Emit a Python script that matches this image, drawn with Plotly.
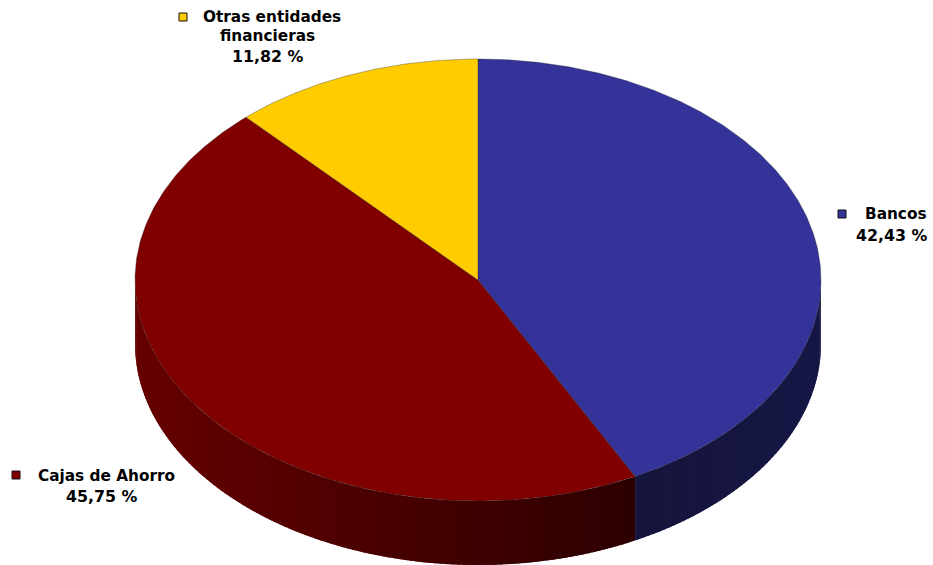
import math
import plotly.graph_objects as go

# Share of each group of institutions, clockwise from twelve o'clock
categories = ["Bancos", "Cajas de Ahorro", "Otras entidades<br>financieras"]
shares = [42.43, 45.75, 11.82]
colors = ["#333399", "#800000", "#FFCC00"]

# Pixel-based frame and ellipse geometry of the tilted disc
WIDTH, HEIGHT = 933, 565
CX, CY, RX, RY, DEPTH = 478, 280, 343, 221, 64

# Label placement per category: key x, key y, first-line x, other-lines x, anchor, line y positions
label_layout = [
    (842, 214, 929, 929, "right", [214, 235]),
    (16, 475, 106.5, 101, "center", [476, 496]),
    (183, 17, 272, 267.5, "center", [17, 36, 56]),
]


def rim(theta_deg):
    t = math.radians(theta_deg)
    return CX + RX * math.sin(t), CY - RY * math.cos(t)


def arc(a, b, step=0.5):
    n = max(2, int(abs(b - a) / step))
    return [rim(a + (b - a) * i / n) for i in range(n + 1)]


def shade(color, x):
    # Wall darkens towards the lower right, following the rim position
    r, g, b = (int(color[i:i + 2], 16) for i in (1, 3, 5))
    if color == "#333399":
        f = 0.39 + 0.07 * (x - 635) / 186
    else:
        f = 0.35 + 0.45 * (635 - x) / 500
    return f"rgb({r * f:.0f},{g * f:.0f},{b * f:.0f})"


fig = go.Figure()

# Side wall: narrow strips along the visible front half of the rim.
# Each strip runs a little past its end so the next one hides the join.
start = 0.0
slices = []
for share, color in zip(shares, colors):
    end = start + share * 3.6
    slices.append((start, end, color))
    start = end

for a, b, color in slices:
    lo, hi = max(a, 90.0), min(b, 270.0)
    if lo >= hi:
        continue
    n = max(1, int((hi - lo) / 1.0))
    # Painted from the far end of the slice towards its start
    for i in range(n - 1, -1, -1):
        t0 = lo + (hi - lo) * i / n
        t1 = min(hi, lo + (hi - lo) * (i + 1) / n + 0.8)
        top = arc(t0, t1, 0.25)
        xs = [p[0] for p in top] + [p[0] for p in reversed(top)] + [top[0][0]]
        ys = [p[1] for p in top] + [p[1] + DEPTH for p in reversed(top)] + [top[0][1]]
        fill = shade(color, rim(t0 + (hi - lo) / (2 * n))[0])
        fig.add_trace(go.Scatter(x=xs, y=ys, mode="lines", fill="toself", fillcolor=fill,
                                 line=dict(width=0), hoverinfo="skip", showlegend=False))

# Top face of the disc, one wedge per category
for (a, b, color), name in zip(slices, categories):
    pts = [(CX, CY)] + arc(a, b) + [(CX, CY)]
    fig.add_trace(go.Scatter(x=[p[0] for p in pts], y=[p[1] for p in pts], mode="lines", fill="toself",
                             fillcolor=color, line=dict(color="rgba(40,40,40,0.5)", width=0.7),
                             name=name.replace("<br>", " "), showlegend=False))

# Category labels with their percentage and colour key; the first line sits beside the key
for name, share, color, (kx, ky, x1, x2, anchor, line_ys) in zip(categories, shares, colors, label_layout):
    lines = name.split("<br>") + [f"{share:.2f} %".replace(".", ",")]
    for i, (line, ly) in enumerate(zip(lines, line_ys)):
        is_value = i == len(lines) - 1
        fig.add_annotation(x=x1 if i == 0 else x2, y=ly, text=f"<b>{line}</b>", showarrow=False,
                           xanchor=anchor, yanchor="middle",
                           font=dict(family="DejaVu Sans", size=15.8 if is_value else 15.3, color="#000000"))
    fig.add_trace(go.Scatter(x=[kx], y=[ky], mode="markers", showlegend=False, hoverinfo="skip",
                             marker=dict(symbol="square", size=8, color=color,
                                         line=dict(color="#111111", width=1))))

fig.update_xaxes(range=[0, WIDTH], visible=False, fixedrange=True)
fig.update_yaxes(range=[HEIGHT, 0], visible=False, fixedrange=True)
fig.update_layout(width=WIDTH, height=HEIGHT, margin=dict(l=0, r=0, t=0, b=0),
                  paper_bgcolor="white", plot_bgcolor="white", showlegend=False)
fig.write_html("out.html")
